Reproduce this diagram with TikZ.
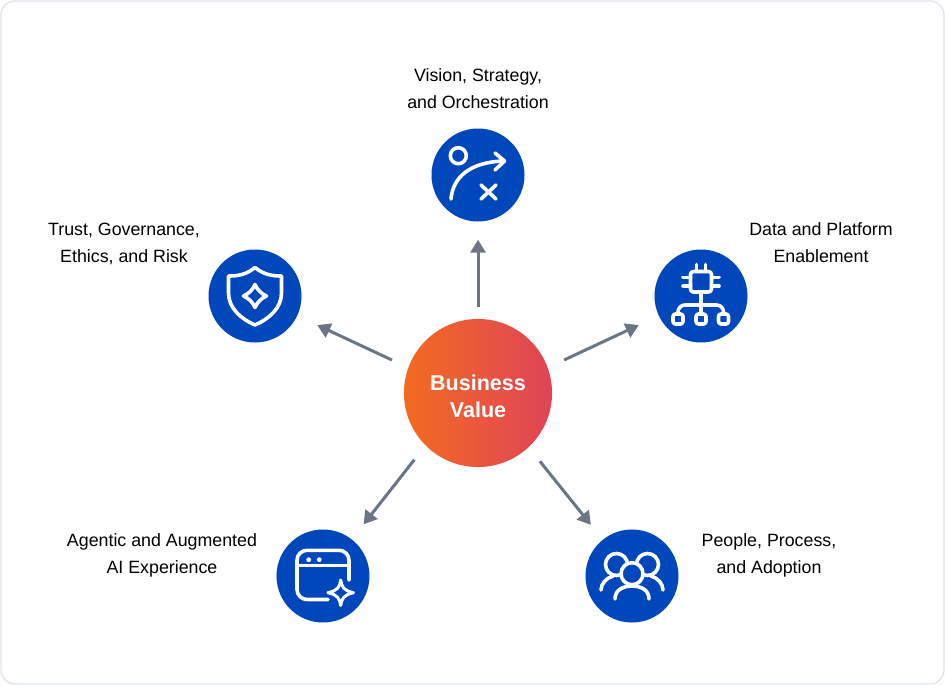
\documentclass[tikz,border=0pt]{standalone}
\usepackage{fontspec}
\setmainfont{Liberation Sans}
\usetikzlibrary{arrows.meta}
\definecolor{hubleft}{HTML}{F26B21}
\definecolor{hubright}{HTML}{DF4458}
\definecolor{iconblue}{HTML}{0047BB}
\definecolor{linkgray}{HTML}{6C7583}
\definecolor{framegray}{HTML}{DFE2EA}
\tikzset{
  frame/.style={draw=framegray, line width=1.2pt, rounded corners=14pt, fill=white},
  hub/.style={circle, minimum size=148pt, inner sep=0pt, left color=hubleft, right color=hubright,
    text=white, align=center, font=\fontsize{21.5}{27}\selectfont\bfseries},
  iconbg/.style={circle, fill=iconblue, minimum size=93pt, inner sep=0pt},
  glyph/.style={draw=white, line width=3.6pt, line cap=round, line join=round},
  caption/.style={align=center, text=black, font=\fontsize{17.8}{27}\selectfont},
  link/.style={draw=linkgray, line width=3pt, -{Triangle[length=13pt,width=15pt]}}
}
\newcommand{\iconvision}[1]{
  \begin{scope}[shift={(#1)}, glyph]
    \draw (-19.7,-19.3) circle (8);
    \draw (-27,24) .. controls (-25,2) and (-8,-13) .. (26,-14);
    \draw (17,-22) -- (26.5,-14) -- (17,-5);
    \draw (3,10) -- (18,24) (18,10) -- (3,24);
  \end{scope}}
\newcommand{\icondata}[1]{
  \begin{scope}[shift={(#1)}, glyph]
    \draw[rounded corners=3pt] (-10.5,-24.5) rectangle (10.5,-4);
    \draw (-4.5,-31.5) -- (-4.5,-24.5) (4.5,-31.5) -- (4.5,-24.5);
    \draw (-18,-18.7) -- (-10.5,-18.7) (-18,-10) -- (-10.5,-10);
    \draw (18,-18.7) -- (10.5,-18.7) (18,-10) -- (10.5,-10);
    \draw (0,-4) -- (0,18);
    \draw[rounded corners=7pt] (-23,18) -- (-23,9) -- (22.5,9) -- (22.5,18);
    \foreach \px in {-23,0,22.5}
      \draw[rounded corners=2.5pt] (\px-5,18) rectangle (\px+5,28);
  \end{scope}}
\newcommand{\icontrust}[1]{
  \begin{scope}[shift={(#1)}, glyph]
    \draw (0,-28.5) .. controls (-9,-21) and (-18,-20) .. (-26.5,-20) -- (-26.5,-3)
      .. controls (-26.5,12) and (-14,23) .. (0,29)
      .. controls (14,23) and (26.5,12) .. (26.5,-3) -- (26.5,-20)
      .. controls (18,-20) and (9,-21) .. (0,-28.5) -- cycle;
    \draw (0,-11.5) .. controls (2.5,-6) and (6,-2.5) .. (11.5,0)
      .. controls (6,2.5) and (2.5,6) .. (0,11.5)
      .. controls (-2.5,6) and (-6,2.5) .. (-11.5,0)
      .. controls (-6,-2.5) and (-2.5,-6) .. (0,-11.5) -- cycle;
  \end{scope}}
\newcommand{\iconagent}[1]{
  \begin{scope}[shift={(#1)}, glyph]
    \draw[rounded corners=10pt] (5,23.5) -- (-26,23.5) -- (-26,-25.7) -- (26,-25.7) -- (26,4);
    \draw (-26,-10.7) -- (26,-10.7);
    \fill[white, draw=none] (-14.3,-16.3) circle (2.4) (-3.7,-16.3) circle (2.4);
    \draw[line width=3pt] (17.7,4) .. controls (18.8,11) and (20.5,14.5) .. (30.5,16.7)
      .. controls (20.5,19) and (18.8,22.5) .. (17.7,29.5)
      .. controls (16.6,22.5) and (14.9,19) .. (5,16.7)
      .. controls (14.9,14.5) and (16.6,11) .. (17.7,4) -- cycle;
  \end{scope}}
\newcommand{\iconpeople}[1]{
  \begin{scope}[shift={(#1)}, glyph]
    \draw (-15.5,-11.5) circle (11) (15.5,-11.5) circle (11);
    \draw[fill=iconblue] (0,-2.3) circle (11);
    \draw (-17,23) .. controls (-17,14) and (-9,10) .. (0,10) .. controls (9,10) and (17,14) .. (17,23);
    \draw (-31,14) .. controls (-31,8) and (-26,2) .. (-19,0);
    \draw (31,14) .. controls (31,8) and (26,2) .. (19,0);
  \end{scope}}

\begin{document}
\begin{tikzpicture}[x=1pt, y=-1pt]
  \useasboundingbox (0,0) rectangle (945,685);
  \draw[frame] (1,1) rectangle (944,684);

  \node[hub] (bv) at (478,393) {\raisebox{0pt}[\dimexpr\height+7pt\relax][\depth]{\parbox{140pt}{\centering Business\\Value}}};
  \node[iconbg] (vis) at (478,175) {};
  \node[iconbg] (dat) at (701,296) {};
  \node[iconbg] (trs) at (255,296) {};
  \node[iconbg] (agt) at (323,576) {};
  \node[iconbg] (ppl) at (632,576) {};

  \iconvision{vis}
  \icondata{dat}
  \icontrust{trs}
  \iconagent{agt}
  \iconpeople{ppl}

  \node[caption] (lvis) at (478,89) {Vision, Strategy,\\and Orchestration};
  \node[caption] (ldat) at (821,243) {Data and Platform\\Enablement};
  \node[caption] (ltrs) at (124,244) {Trust, Governance,\\Ethics, and Risk};
  \node[caption] (lagt) at (162,555) {Agentic and Augmented\\AI Experience};
  \node[caption] (lppl) at (769,555) {People, Process,\\and Adoption};

  \draw[link, shorten <=12pt, shorten >=18pt] (bv) -- (vis);
  \draw[link, shorten <=18pt, shorten >=22pt] (bv.20) -- (dat);
  \draw[link, shorten <=18pt, shorten >=22pt] (bv.160) -- (trs);
  \draw[link, shorten <=18pt, shorten >=19pt] (bv.225) -- (agt);
  \draw[link, shorten <=18pt, shorten >=19pt] (bv.-47) -- (ppl);
\end{tikzpicture}
\end{document}
